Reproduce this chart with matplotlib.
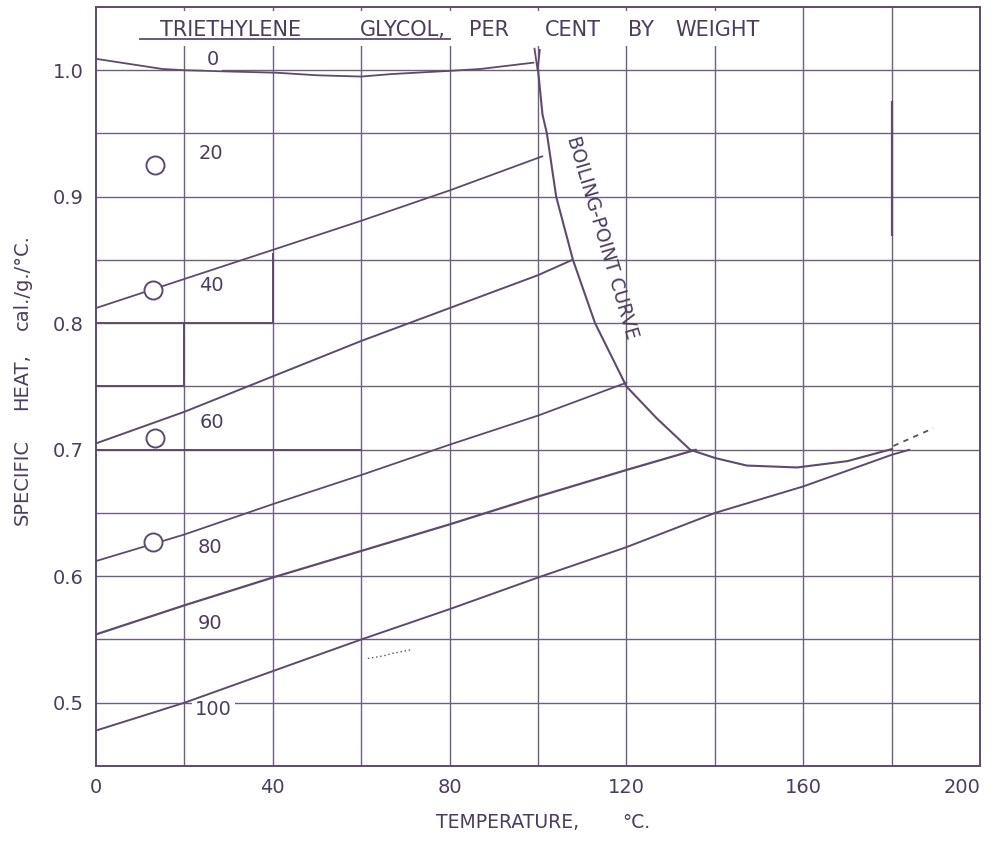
import matplotlib
matplotlib.use('Agg')
import matplotlib.pyplot as plt
from matplotlib.patches import Rectangle

INK = "#5e4b6c"
GRID = "#6f5f7e"
TXT = "#4d3d5c"

# specific heat curves (temperature °C, cal/g/°C)
t_0 = [0, 15, 20, 30, 41, 50, 60, 67, 80, 87, 99]
cp_0 = [1.009, 1.001, 1.000, 0.999, 0.998, 0.996, 0.995, 0.997, 0.9995, 1.001, 1.006]

t_40 = [0, 20, 40, 60, 80, 101]
cp_40 = [0.812, 0.835, 0.858, 0.881, 0.905, 0.932]

t_60 = [0, 20, 40, 60, 80, 100, 107.7]
cp_60 = [0.705, 0.730, 0.758, 0.786, 0.812, 0.838, 0.850]

t_80 = [0, 20, 40, 60, 80, 100, 120]
cp_80 = [0.612, 0.633, 0.657, 0.680, 0.704, 0.727, 0.753]

t_90 = [0, 20, 40, 60, 80, 100, 120, 135.7]
cp_90 = [0.554, 0.577, 0.599, 0.620, 0.641, 0.663, 0.684, 0.700]

t_100 = [0, 20, 40, 60, 80, 100, 120, 140, 160, 180, 184]
cp_100 = [0.478, 0.500, 0.525, 0.550, 0.574, 0.599, 0.623, 0.650, 0.671, 0.696, 0.700]

t_boil = [100, 101, 102, 104.1, 107.9, 112.9, 120, 126.8, 134.4, 140, 147.2, 158.6, 170, 180]
cp_boil = [1.0, 0.965, 0.95, 0.90, 0.85, 0.80, 0.75, 0.725, 0.70, 0.6935, 0.6875, 0.686, 0.691, 0.7005]

t_boil_ext = [180.4, 189.4]
cp_boil_ext = [0.703, 0.717]

# open circles (measured points)
t_pts = [13.3, 13.0, 13.3, 13.0]
cp_pts = [0.925, 0.826, 0.709, 0.627]

# curve labels (per cent by weight)
lab_text = ["0", "20", "40", "60", "80", "90", "100"]
lab_t = [25.1, 23.3, 23.4, 23.4, 23.0, 23.0, 22.4]
lab_cp = [1.0086, 0.934, 0.830, 0.7215, 0.623, 0.563, 0.495]

grid_t = [20, 40, 60, 80, 100, 120, 140, 160, 180]
grid_cp = [0.50, 0.55, 0.60, 0.65, 0.70, 0.75, 0.80, 0.85, 0.90, 0.95, 1.00]
xticks = [0, 40, 80, 120, 160, 200]
yticks = [0.5, 0.6, 0.7, 0.8, 0.9, 1.0]

# title words and their centres (pixels) - the original lettering is widely spaced
title_words = ["TRIETHYLENE", "GLYCOL,", "PER", "CENT", "BY", "WEIGHT"]
title_x = [231, 403, 489, 573, 641, 717]
ylab_words = ["SPECIFIC", "HEAT,", "cal./g./°C."]
ylab_y = [482, 382, 282]
xlab_words = ["TEMPERATURE,", "°C."]
xlab_x = [508, 636]

fig = plt.figure(figsize=(9.99, 8.41), dpi=100)
ax = fig.add_axes([0.0961, 0.0892, 0.885, 0.9025])
ax.set_xlim(0, 200)
ax.set_ylim(0.45, 1.05)

for g in grid_t:
    ax.axvline(g, color=GRID, lw=1.0, zorder=0.5)
for g in grid_cp:
    ax.axhline(g, color=GRID, lw=1.0, zorder=0.5)

ax.tick_params(length=0, colors=TXT, labelsize=14, pad=9)
ax.set_yticks(yticks)
ax.set_yticklabels([f"{v:.1f}" for v in yticks])
ax.set_xticks(xticks)
ax.set_xticklabels([str(v) for v in xticks])
ax.get_xticklabels()[-1].set_horizontalalignment("right")
for s in ax.spines.values():
    s.set_color(INK)
    s.set_linewidth(1.4)

# construction strokes that are heavier on the original sheet
ax.plot([0, 40, 40], [0.8, 0.8, 0.855], color=INK, lw=1.4)
ax.plot([0, 20, 20], [0.75, 0.75, 0.8], color=INK, lw=1.4)
ax.plot([0, 60], [0.7, 0.7], color=INK, lw=1.4)
ax.plot([180, 180], [0.87, 0.975], color=INK, lw=1.6)

for t, cp, lw in [(t_0, cp_0, 1.3), (t_40, cp_40, 1.3), (t_60, cp_60, 1.4),
                  (t_80, cp_80, 1.3), (t_90, cp_90, 1.6), (t_100, cp_100, 1.4)]:
    ax.plot(t, cp, color=INK, lw=lw, solid_capstyle="round", zorder=2)

ax.plot(t_boil, cp_boil, color=INK, lw=1.5, zorder=2)
ax.plot([99.2, 99.9, 100.4], [1.017, 1.0, 1.016], color=INK, lw=1.3, zorder=2)
ax.plot(t_boil_ext, cp_boil_ext, color=INK, lw=1.3, ls=(0, (3, 3)))
ax.plot([61.5, 65, 67, 71.5], [0.535, 0.537, 0.539, 0.542], color=INK, lw=1.0, ls=(0, (1, 2)))

ax.plot(t_pts, cp_pts, "o", ms=13, mfc="white", mec=INK, mew=1.4, zorder=3)

for s, t, cp in zip(lab_text, lab_t, lab_cp):
    ax.text(t, cp, s, color=TXT, fontsize=14, ha="left", va="center", zorder=1.8,
            bbox=dict(boxstyle="square,pad=0.15", fc="white", ec="none"))

ax.text(114.6, 0.868, "BOILING-POINT CURVE", color=TXT, fontsize=13.5,
        rotation=-73.5, ha="center", va="center", rotation_mode="anchor")

# title: white patch hides the grid behind the lettering, as on the sheet
ax.add_patch(Rectangle((7.7, 1.019), 146, 0.028, fc="white", ec="none", zorder=1.5))
for w, px in zip(title_words, title_x):
    ax.text(px / 999, 1 - 30 / 841, w, color=TXT, fontsize=15, ha="center", va="center",
            transform=fig.transFigure, zorder=3)
ax.plot([10, 80], [1.025, 1.025], color=INK, lw=1.3, zorder=3)

for w, py in zip(ylab_words, ylab_y):
    fig.text(22 / 999, 1 - py / 841, w, color=TXT, fontsize=14, rotation=90,
             ha="center", va="center")
for w, px in zip(xlab_words, xlab_x):
    fig.text(px / 999, 1 - 823 / 841, w, color=TXT, fontsize=13.5,
             ha="center", va="center")

fig.savefig("out.png", dpi=100, facecolor="white")
